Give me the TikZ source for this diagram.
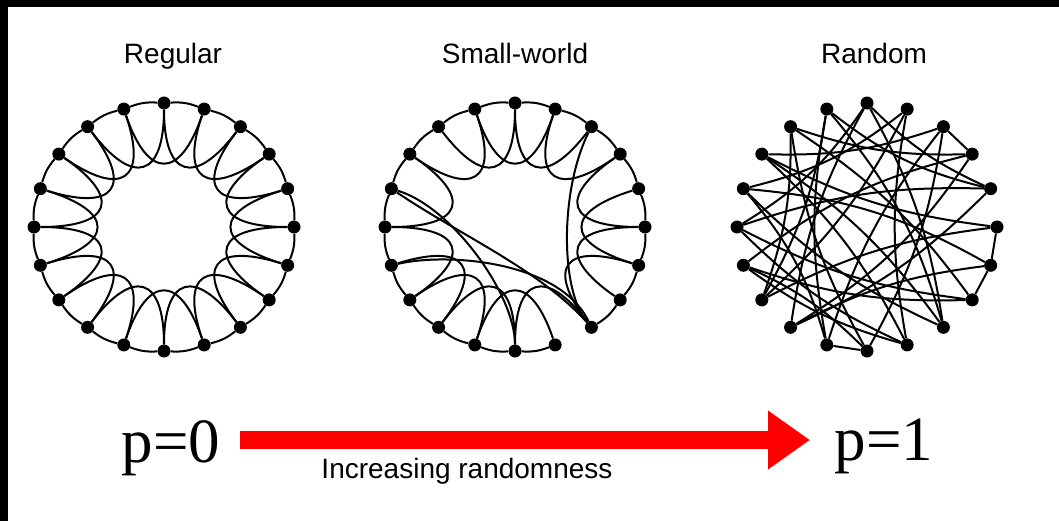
\documentclass[tikz,border=0pt]{standalone}
\usepackage{fontspec}
\setmainfont{Liberation Serif}
\newfontfamily\arialf{Liberation Sans}
\usetikzlibrary{calc,arrows.meta}
\begin{document}
\begin{tikzpicture}[x=1pt,y=-1pt,
  dot/.style={circle,fill=black,inner sep=0pt,minimum size=13pt},
  edge/.style={line width=2pt,black},
  lbl/.style={font=\arialf\fontsize{28}{30}\selectfont,inner sep=0pt},
  big/.style={font=\fontsize{63}{66}\selectfont,inner sep=0pt}]
\fill[white] (0,0) rectangle (1059,521);
\fill[black] (0,0) rectangle (1059,7);
\fill[black] (0,0) rectangle (8,521);
\useasboundingbox (0,0) rectangle (1059,521);
% titles
\node[lbl,anchor=base] (tR) at (173,64) {Regular};
\node[lbl,anchor=base] (tS) at (515,64) {Small-world};
\node[lbl,anchor=base] (tD) at (874,64) {Random};
% ring nodes
\foreach \p/\cx in {r/164,s/515,d/867}{
  \coordinate (\p c) at (\cx,227);
  \foreach \i in {0,...,19}
    \node[dot] (\p\i) at ({\cx+130*cos(90-18*\i)},{227-124*sin(90-18*\i)}) {};
}
% regular
\foreach \i [evaluate=\i as \j using {int(mod(\i+1,20))},
             evaluate=\i as \k using {int(mod(\i+2,20))}] in {0,...,19}{
  \draw[edge] (r\i) to[bend left=12] (r\j);
  \draw[edge] (r\i) .. controls ($(r\i)!0.6!(rc)$) and ($(r\k)!0.6!(rc)$) .. (r\k);
}
% small-world: ring arcs
\foreach \i [evaluate=\i as \j using {int(mod(\i+1,20))}] in {0,1,2,3,4,5,6,7,9,10,11,12,13,14,15,16,17,18,19}{
  \draw[edge] (s\i) to[bend left=12] (s\j);
}
\foreach \i [evaluate=\i as \k using {int(mod(\i+2,20))}] in {0,1,3,4,5,6,8,9,10,11,12,13,15,17,18,19}{
  \draw[edge] (s\i) .. controls ($(s\i)!0.6!(sc)$) and ($(s\k)!0.6!(sc)$) .. (s\k);
}
\draw[edge] (s16) .. controls ($(s16)!0.5!(sc)$) and ($(s10)!0.45!(sc)$) .. (s10);
\draw[edge] (s14) .. controls (450,252) and (560,262) .. (s8);
\draw[edge] (s2) .. controls (560,190) and (560,290) .. (s8);
\draw[edge] (s16) .. controls (460,235) and (540,270) .. (s8);
% random
\foreach \a/\b/\bd in {0/8/10,0/12/-10,0/15/12,1/9/-10,1/13/10,1/16/12,2/3/0,2/11/-10,2/17/10,
  3/14/-12,3/18/10,4/12/10,4/15/-10,4/19/12,5/6/0,5/13/-10,5/17/10,6/7/0,6/16/-12,7/14/10,
  7/18/-10,8/16/10,8/19/-12,9/15/10,9/17/-10,10/11/0,10/18/10,10/14/-10,11/19/10,11/16/-12,
  12/6/10,13/19/-10,3/12/12,9/14/10,8/17/-10,7/15/10,13/18/-10,2/10/10,0/4/-10}{
  \draw[edge] (d\a) to[bend left=\bd] (d\b);
}
% bottom
\node[big,anchor=base] (p0) at (171,462) {p=0};
\node[big,anchor=base] (p1) at (884,460) {p=1};
\coordinate (as) at (240,440);
\coordinate (ae) at (810,440);
\draw[red,line width=18pt,-{Triangle[length=42pt,width=56pt]}] (as) -- (ae);
\node[lbl,anchor=base] (inc) at (467,478) {Increasing randomness};
\end{tikzpicture}
\end{document}
